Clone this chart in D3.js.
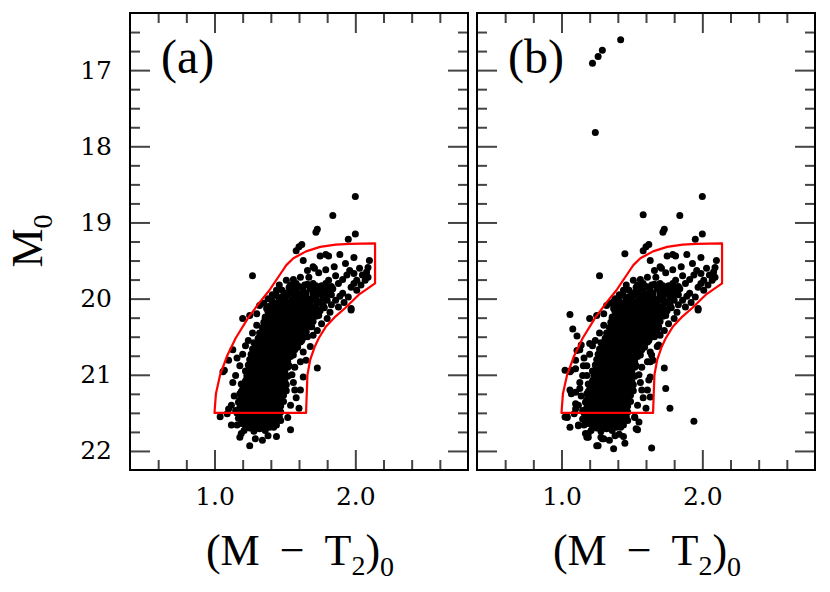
<!DOCTYPE html>
<html>
<head>
<meta charset="utf-8">
<script src="https://cdn.jsdelivr.net/npm/d3@7"></script>
<style>
  body { margin: 0; background: #fff; }
  text { font-family: "Liberation Serif", "DejaVu Serif", serif; fill: #000; }
</style>
</head>
<body>
<svg id="chart" width="830" height="592"></svg>
<script>
"use strict";

// axis ranges and tick values
let colourRange = [0.4, 2.8];
let magRange = [16.25, 22.25];
let xMajor = [1.0, 2.0];
let xMinor = [0.6, 0.8, 1.2, 1.4, 1.6, 1.8, 2.2, 2.4, 2.6];
let yMajor = [17, 18, 19, 20, 21, 22];
let yMinor = [16.5, 16.75, 17.25, 17.5, 17.75, 18.25, 18.5, 18.75, 19.25, 19.5, 19.75,
              20.25, 20.5, 20.75, 21.25, 21.5, 21.75];
let panelLabels = ["(a)", "(b)"];

// selection region drawn in red, [(M-T2)0, M0]
let selectionBox = [[1.00,21.50],[1.01,21.25],[1.04,21.00],[1.09,20.75],[1.15,20.52],[1.24,20.25],
  [1.32,20.05],[1.39,19.89],[1.43,19.78],[1.47,19.67],[1.51,19.56],[1.56,19.47],[1.65,19.38],
  [1.75,19.32],[1.86,19.29],[1.96,19.28],[2.14,19.275],[2.14,19.80],[2.03,19.94],[1.93,20.12],
  [1.85,20.25],[1.79,20.37],[1.74,20.52],[1.71,20.64],[1.68,20.80],[1.66,21.00],[1.655,21.25],
  [1.65,21.50]];

// dense giant-branch ridge, common to both panels
let ridge = [
  [1.21,21.73],[1.25,21.70],[1.28,21.74],[1.32,21.71],[1.36,21.73],[1.39,21.69],
  [1.19,21.64],[1.22,21.67],[1.26,21.63],[1.30,21.66],[1.33,21.62],[1.37,21.65],[1.41,21.63],[1.44,21.66],
  [1.17,21.57],[1.20,21.59],[1.24,21.56],[1.27,21.58],[1.31,21.55],[1.34,21.59],[1.38,21.57],[1.42,21.55],[1.45,21.58],
  [1.16,21.50],[1.19,21.52],[1.23,21.49],[1.26,21.51],[1.30,21.48],[1.33,21.52],[1.37,21.50],[1.40,21.48],[1.44,21.51],[1.47,21.49],
  [1.18,21.43],[1.21,21.45],[1.25,21.42],[1.28,21.44],[1.32,21.41],[1.35,21.45],[1.39,21.43],[1.42,21.41],[1.46,21.44],
  [1.17,21.36],[1.20,21.38],[1.24,21.35],[1.27,21.37],[1.31,21.34],[1.34,21.38],[1.38,21.36],[1.41,21.34],[1.45,21.37],[1.49,21.35],
  [1.19,21.29],[1.22,21.31],[1.26,21.28],[1.29,21.30],[1.33,21.27],[1.36,21.31],[1.40,21.29],[1.43,21.27],[1.47,21.30],
  [1.19,21.22],[1.23,21.24],[1.27,21.21],[1.30,21.23],[1.34,21.20],[1.37,21.24],[1.41,21.22],[1.44,21.20],[1.48,21.23],[1.51,21.21],
  [1.21,21.15],[1.24,21.17],[1.28,21.14],[1.31,21.16],[1.35,21.13],[1.38,21.17],[1.42,21.15],[1.45,21.13],[1.49,21.16],
  [1.22,21.08],[1.25,21.10],[1.29,21.07],[1.32,21.09],[1.36,21.06],[1.39,21.10],[1.43,21.08],[1.46,21.06],[1.50,21.09],
  [1.23,21.01],[1.27,21.03],[1.30,21.00],[1.34,21.02],[1.37,20.99],[1.41,21.03],[1.44,21.01],[1.48,20.99],[1.52,21.02],
  [1.24,20.94],[1.28,20.96],[1.31,20.93],[1.35,20.95],[1.38,20.92],[1.42,20.96],[1.45,20.94],[1.49,20.92],
  [1.24,20.87],[1.28,20.89],[1.32,20.86],[1.36,20.88],[1.39,20.85],[1.43,20.89],[1.46,20.87],[1.50,20.85],[1.53,20.88],
  [1.25,20.80],[1.29,20.82],[1.33,20.79],[1.36,20.81],[1.40,20.78],[1.43,20.82],[1.47,20.80],[1.51,20.78],
  [1.26,20.73],[1.30,20.75],[1.34,20.72],[1.37,20.74],[1.41,20.71],[1.44,20.75],[1.48,20.73],[1.52,20.71],[1.56,20.74],
  [1.27,20.66],[1.31,20.68],[1.35,20.65],[1.38,20.67],[1.42,20.64],[1.46,20.68],[1.49,20.66],[1.53,20.64],[1.57,20.67],
  [1.29,20.59],[1.33,20.61],[1.36,20.58],[1.40,20.60],[1.44,20.57],[1.47,20.61],[1.51,20.59],[1.55,20.57],[1.59,20.60],
  [1.31,20.52],[1.34,20.54],[1.38,20.51],[1.42,20.53],[1.45,20.50],[1.49,20.54],[1.53,20.52],[1.56,20.50],[1.60,20.53],[1.63,20.51],
  [1.32,20.45],[1.36,20.47],[1.40,20.44],[1.43,20.46],[1.47,20.43],[1.51,20.47],[1.54,20.45],[1.58,20.43],[1.62,20.46],[1.65,20.44],
  [1.34,20.38],[1.37,20.40],[1.41,20.37],[1.45,20.39],[1.49,20.36],[1.52,20.40],[1.56,20.38],[1.60,20.36],[1.64,20.39],[1.68,20.37],
  [1.35,20.31],[1.39,20.33],[1.43,20.30],[1.46,20.32],[1.50,20.29],[1.54,20.33],[1.58,20.31],[1.62,20.29],[1.66,20.32],[1.70,20.30],
  [1.36,20.24],[1.40,20.26],[1.44,20.23],[1.48,20.25],[1.52,20.22],[1.56,20.26],[1.60,20.24],[1.64,20.22],[1.68,20.25],[1.72,20.23],
  [1.38,20.17],[1.42,20.19],[1.46,20.16],[1.50,20.18],[1.54,20.15],[1.58,20.19],[1.62,20.17],[1.66,20.15],[1.70,20.18],[1.75,20.16],
  [1.39,20.10],[1.43,20.12],[1.47,20.09],[1.51,20.11],[1.56,20.08],[1.60,20.12],[1.64,20.10],[1.68,20.08],[1.72,20.11],[1.77,20.09],
  [1.41,20.03],[1.45,20.05],[1.49,20.02],[1.53,20.04],[1.58,20.01],[1.62,20.05],[1.66,20.03],[1.70,20.01],[1.75,20.04],[1.80,20.02],
  [1.44,19.96],[1.48,19.98],[1.52,19.95],[1.57,19.97],[1.61,19.94],[1.65,19.98],[1.70,19.96],[1.74,19.94],[1.79,19.97],[1.83,19.95],
  [1.48,19.89],[1.53,19.91],[1.58,19.88],[1.63,19.90],[1.68,19.87],[1.73,19.91],[1.78,19.89],[1.84,19.87],
  [1.54,19.82],[1.60,19.84],[1.66,19.81],[1.72,19.83],[1.79,19.80]
];

// stars lying between the ridge rows above
let ridgeFill = [
  [1.23,21.68],[1.27,21.69],[1.31,21.67],[1.35,21.68],[1.39,21.67],[1.42,21.69],
  [1.20,21.61],[1.24,21.60],[1.28,21.62],[1.32,21.61],[1.35,21.60],[1.39,21.62],[1.43,21.61],
  [1.18,21.54],[1.22,21.53],[1.25,21.55],[1.29,21.54],[1.32,21.53],[1.36,21.55],[1.40,21.54],[1.43,21.53],[1.46,21.55],
  [1.17,21.47],[1.21,21.46],[1.24,21.48],[1.28,21.47],[1.31,21.46],[1.35,21.48],[1.39,21.47],[1.42,21.46],[1.46,21.48],
  [1.19,21.40],[1.23,21.39],[1.26,21.41],[1.30,21.40],[1.33,21.39],[1.37,21.41],[1.40,21.40],[1.44,21.39],[1.47,21.41],
  [1.18,21.33],[1.21,21.32],[1.25,21.34],[1.28,21.33],[1.32,21.32],[1.35,21.34],[1.39,21.33],[1.42,21.32],[1.46,21.34],
  [1.20,21.26],[1.24,21.25],[1.28,21.27],[1.31,21.26],[1.35,21.25],[1.38,21.27],[1.42,21.26],[1.46,21.25],[1.49,21.27],
  [1.20,21.19],[1.23,21.18],[1.26,21.20],[1.30,21.19],[1.33,21.18],[1.36,21.20],[1.40,21.19],[1.43,21.18],[1.47,21.20],[1.50,21.19],
  [1.22,21.12],[1.26,21.11],[1.30,21.13],[1.33,21.12],[1.37,21.11],[1.40,21.13],[1.44,21.12],[1.47,21.11],[1.51,21.13],
  [1.23,21.05],[1.27,21.04],[1.31,21.06],[1.34,21.05],[1.38,21.04],[1.42,21.06],[1.45,21.05],[1.49,21.04],
  [1.25,20.98],[1.29,20.97],[1.32,20.99],[1.36,20.98],[1.40,20.97],[1.43,20.99],[1.47,20.98],[1.50,20.97],
  [1.26,20.91],[1.30,20.90],[1.34,20.92],[1.37,20.91],[1.41,20.90],[1.44,20.92],[1.48,20.91],[1.52,20.90],
  [1.27,20.84],[1.31,20.83],[1.34,20.85],[1.38,20.84],[1.42,20.83],[1.45,20.85],[1.49,20.84],[1.52,20.83],
  [1.27,20.77],[1.31,20.76],[1.35,20.78],[1.39,20.77],[1.42,20.76],[1.46,20.78],[1.50,20.77],[1.54,20.76],
  [1.28,20.70],[1.32,20.69],[1.36,20.71],[1.40,20.70],[1.43,20.69],[1.47,20.71],[1.51,20.70],[1.55,20.69],
  [1.30,20.63],[1.34,20.62],[1.37,20.64],[1.41,20.63],[1.45,20.62],[1.48,20.64],[1.52,20.63],[1.56,20.62],[1.59,20.64],
  [1.32,20.56],[1.35,20.55],[1.39,20.57],[1.43,20.56],[1.46,20.55],[1.50,20.57],[1.54,20.56],[1.58,20.55],[1.61,20.57],
  [1.33,20.49],[1.37,20.48],[1.41,20.50],[1.44,20.49],[1.48,20.48],[1.52,20.50],[1.55,20.49],[1.59,20.48],[1.63,20.50],
  [1.35,20.42],[1.39,20.41],[1.42,20.43],[1.46,20.42],[1.50,20.41],[1.53,20.43],[1.57,20.42],[1.61,20.41],[1.65,20.43],
  [1.36,20.35],[1.40,20.34],[1.44,20.36],[1.48,20.35],[1.51,20.34],[1.55,20.36],[1.59,20.35],[1.63,20.34],[1.67,20.36],
  [1.38,20.28],[1.42,20.27],[1.45,20.29],[1.49,20.28],[1.53,20.27],[1.57,20.29],[1.61,20.28],[1.65,20.27],[1.69,20.29],
  [1.39,20.21],[1.43,20.20],[1.47,20.22],[1.51,20.21],[1.55,20.20],[1.59,20.22],[1.63,20.21],[1.67,20.20],[1.71,20.22],
  [1.41,20.14],[1.45,20.13],[1.49,20.15],[1.53,20.14],[1.57,20.13],[1.61,20.15],[1.65,20.14],[1.69,20.13],[1.74,20.15],
  [1.43,20.07],[1.47,20.06],[1.51,20.08],[1.55,20.07],[1.60,20.06],[1.64,20.08],[1.68,20.07],[1.73,20.06],[1.77,20.08],
  [1.46,20.00],[1.50,19.99],[1.55,20.01],[1.59,20.00],[1.63,19.99],[1.68,20.01],[1.72,20.00],[1.77,19.99],
  [1.50,19.93],[1.55,19.92],[1.60,19.94],[1.65,19.93],[1.70,19.92],[1.76,19.94],[1.81,19.93],
  [1.57,19.86],[1.63,19.85],[1.69,19.87],[1.75,19.86],[1.81,19.85]
];

// sparser stars seen in panel (a)
let scatterA = [
  [2.00,18.66],[1.84,18.91],[1.73,19.09],[1.72,19.13],[2.00,19.15],[1.95,19.22],[1.62,19.29],
  [1.60,19.32],[1.58,19.37],[1.63,19.50],[1.75,19.44],[1.81,19.44],[1.79,19.42],[1.89,19.42],
  [1.99,19.46],[2.10,19.50],[2.09,19.59],[2.08,19.65],[2.09,19.72],[1.93,19.54],[1.96,19.63],
  [1.99,19.67],[1.94,19.69],[2.03,19.60],[2.05,19.69],[2.01,19.76],[2.07,19.76],[1.70,19.58],
  [1.71,19.60],[1.27,19.70],[1.51,19.76],[1.56,19.75],[1.61,19.72],[1.67,19.72],[1.86,19.70],
  [1.81,19.76],[1.44,19.89],[1.48,19.98],[1.38,20.00],[1.43,20.09],[1.37,20.13],[1.39,20.20],
  [1.30,20.20],[1.36,20.26],[1.32,20.09],[1.25,20.22],[1.97,20.13],[1.95,19.98],[1.91,19.93],
  [1.97,19.85],[2.01,19.89],[1.89,19.97],[1.20,20.26],[1.97,20.15],[1.73,20.91],[1.13,20.67],
  [1.10,20.81],[1.07,20.94],[1.06,20.96],[1.18,20.88],[1.15,21.01],[1.19,21.12],[1.18,21.25],
  [1.20,21.34],[1.61,20.83],[1.65,20.81],[1.63,21.03],[1.61,21.20],[1.57,21.20],[1.54,21.40],
  [1.60,21.44],[1.63,20.70],[1.68,20.63],[1.73,20.42],[1.76,20.33],[1.80,20.26],
  [1.04,21.55],[1.09,21.51],[1.12,21.66],[1.16,21.66],[1.19,21.77],[1.18,21.82],[1.25,21.93],
  [1.29,21.84],[1.34,21.86],[1.38,21.80],[1.44,21.81],[1.47,21.60],[1.52,21.56],[1.54,21.72],
  [1.55,21.00],[1.57,20.90],[1.58,21.30],[1.56,21.10],[1.62,20.55],[1.66,20.50],[1.70,20.48],
  [1.69,20.37],[1.74,20.22],[1.78,20.12],[1.83,20.08],[1.86,20.02],[1.88,20.11],[1.82,20.18],
  [1.92,20.05],[1.30,20.35],[1.27,20.45],[1.24,20.55],[1.22,20.62],[1.28,20.58],[1.20,20.73],
  [1.16,20.78],[1.22,20.95],[1.13,21.10],[1.14,21.28],[1.12,21.40],[1.10,21.45],[1.15,21.47],
  [1.46,19.82],[1.53,19.85],[1.58,19.80],[1.64,19.82],[1.70,19.80],[1.76,19.83],[1.83,19.84],
  [1.88,19.80],[1.74,19.66],[1.79,19.62],[1.85,19.58],[1.66,19.63],[1.91,19.75],[1.99,19.80],
  [2.04,19.82],[1.41,19.95],[1.35,20.06]
];

// additional stars only in panel (b)
let extraB = [
  [1.42,16.60],[1.29,16.74],[1.26,16.82],[1.22,16.91],[1.24,17.82],[1.58,18.90],[1.45,19.41],
  [1.06,20.21],[1.11,20.49],[1.11,20.68],[1.14,20.61],[1.20,20.59],[1.025,20.94],[1.10,20.92],
  [1.155,20.88],[1.18,21.01],[1.13,21.18],[1.06,21.20],[1.10,21.23],[1.07,21.25],[1.025,21.555],
  [1.04,21.56],[1.06,21.69],[1.12,21.67],[1.17,21.77],[1.19,21.82],[1.74,21.18],[1.77,21.44],
  [1.94,21.61],[1.64,21.96],[1.37,21.97],[1.26,21.93],[1.45,21.90],[1.41,21.78],[1.30,21.84],
  [1.28,21.82],[1.53,21.71],[1.55,21.62],[1.52,21.555],[1.63,20.83],[1.62,21.07],[1.63,21.29],
  [1.68,20.42],[1.69,20.61],[1.64,20.74],[1.37,20.04],[1.08,20.40],[1.10,21.38],[1.15,21.58]
];

let panelStars = [ridge.concat(ridgeFill, scatterA), ridge.concat(ridgeFill, scatterA, extraB)];

let svg = d3.select("#chart");
let panelLeft = [130, 477];
let panelTop = 13;
let width = 338;
let height = 457;

let x = d3.scaleLinear().domain(colourRange).range([0, width]);
let y = d3.scaleLinear().domain(magRange).range([0, height]);

function styleAxis(sel)
{
  sel.select(".domain").remove();
  sel.selectAll("line").attr("stroke", "#444").attr("stroke-width", 2);
  sel.attr("font-family", "DejaVu Serif").attr("font-size", 25);
  sel.selectAll("text").style("font-family", "DejaVu Serif");
}

function drawAxes(g, withLabels)
{
  let xfmt = withLabels ? d3.format(".1f") : "";
  let yfmt = withLabels ? d3.format("d") : "";

  g.append("g").attr("transform", "translate(0," + height + ")")
   .call(d3.axisBottom(x).tickValues(xMajor).tickSize(-20).tickPadding(17).tickFormat(d3.format(".1f")))
   .call(styleAxis);
  g.append("g").attr("transform", "translate(0," + height + ")")
   .call(d3.axisBottom(x).tickValues(xMinor).tickSize(-10).tickFormat(""))
   .call(styleAxis);
  g.append("g")
   .call(d3.axisTop(x).tickValues(xMajor).tickSize(-20).tickFormat(""))
   .call(styleAxis);
  g.append("g")
   .call(d3.axisTop(x).tickValues(xMinor).tickSize(-10).tickFormat(""))
   .call(styleAxis);

  g.append("g")
   .call(d3.axisLeft(y).tickValues(yMajor).tickSize(-20).tickPadding(18).tickFormat(yfmt))
   .call(styleAxis);
  g.append("g")
   .call(d3.axisLeft(y).tickValues(yMinor).tickSize(-10).tickFormat(""))
   .call(styleAxis);
  g.append("g").attr("transform", "translate(" + width + ",0)")
   .call(d3.axisRight(y).tickValues(yMajor).tickSize(-20).tickFormat(""))
   .call(styleAxis);
  g.append("g").attr("transform", "translate(" + width + ",0)")
   .call(d3.axisRight(y).tickValues(yMinor).tickSize(-10).tickFormat(""))
   .call(styleAxis);

  g.append("rect")
   .attr("width", width).attr("height", height)
   .attr("fill", "none").attr("stroke", "#000").attr("stroke-width", 2);
}

let outline = d3.line()
                .x((d)=>{return x(d[0]);})
                .y((d)=>{return y(d[1]);})
                .curve(d3.curveLinearClosed);

for (let p = 0; p < 2; p++)
{
  let g = svg.append("g").attr("transform", "translate(" + panelLeft[p] + "," + panelTop + ")");

  g.append("g").selectAll("circle")
   .data(panelStars[p])
   .join("circle")
   .attr("cx", (d)=>{return x(d[0]);})
   .attr("cy", (d)=>{return y(d[1]);})
   .attr("r", 3.5)
   .attr("fill", "#000");

  g.append("path")
   .datum(selectionBox)
   .attr("d", outline)
   .attr("fill", "none")
   .attr("stroke", "#ff0000")
   .attr("stroke-width", 2.2)
   .attr("stroke-linejoin", "round");

  drawAxes(g, p == 0);

  g.append("text")
   .attr("x", 31).attr("y", 60)
   .attr("font-size", 48)
   .text(panelLabels[p]);

  // x axis title (M - T2)0
  let t = svg.append("text")
             .attr("x", panelLeft[p] + width / 2 + 1)
             .attr("y", 565)
             .attr("font-size", 44)
             .attr("text-anchor", "middle");
  t.append("tspan").text("(M");
  t.append("tspan").attr("dx", 20).text("\u2212");
  t.append("tspan").attr("dx", 20).text("T");
  t.append("tspan").attr("font-size", 28).attr("dy", 10).text("2");
  t.append("tspan").attr("dy", -10).text(")");
  t.append("tspan").attr("font-size", 28).attr("dy", 11).text("0");
}

// y axis title M0
let yt = svg.append("text")
            .attr("transform", "translate(42,241) rotate(-90)")
            .attr("font-size", 44)
            .attr("text-anchor", "middle");
yt.append("tspan").text("M");
yt.append("tspan").attr("font-size", 28).attr("dy", 10).text("0");
</script>
</body>
</html>
